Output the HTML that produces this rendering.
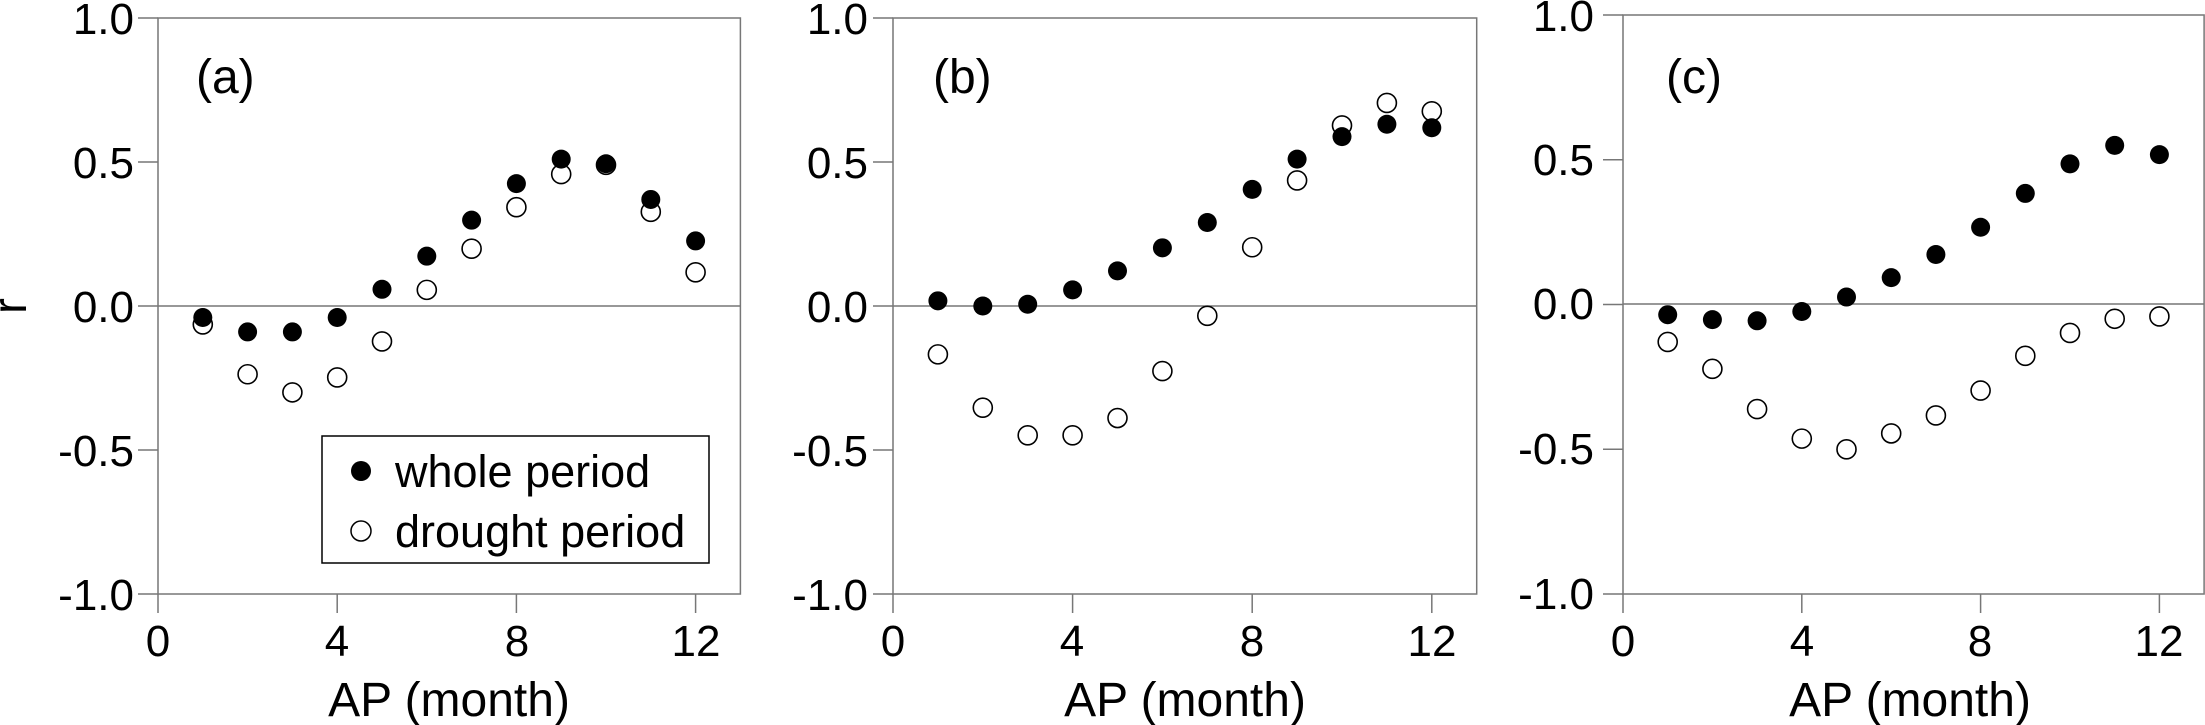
<!DOCTYPE html>
<html><head><meta charset="utf-8"><style>
html,body{margin:0;padding:0;background:#fff;}
svg{display:block;font-family:"Liberation Sans",Arial,sans-serif;}
</style></head><body>
<svg id="s" width="2205" height="725" viewBox="0 0 2205 725" xmlns="http://www.w3.org/2000/svg">
<g id="g" fill="#000" font-size="44">
<!-- Panel a -->
<text x="134" y="34" text-anchor="end">1.0</text>
<text x="134" y="178" text-anchor="end">0.5</text>
<text x="134" y="322" text-anchor="end">0.0</text>
<text x="134" y="466" text-anchor="end">-0.5</text>
<text x="134" y="610" text-anchor="end">-1.0</text>
<text x="158" y="656" text-anchor="middle">0</text>
<text x="337" y="656" text-anchor="middle">4</text>
<text x="517" y="656" text-anchor="middle">8</text>
<text x="696" y="656" text-anchor="middle">12</text>
<text x="449" y="716" text-anchor="middle" font-size="48">AP (month)</text>
<text x="196" y="93" font-size="48">(a)</text>
<text transform="translate(26,306) rotate(-90)" text-anchor="middle" font-size="48">r</text>
<!-- Panel b -->
<text x="868" y="34" text-anchor="end">1.0</text>
<text x="868" y="178" text-anchor="end">0.5</text>
<text x="868" y="322" text-anchor="end">0.0</text>
<text x="868" y="466" text-anchor="end">-0.5</text>
<text x="868" y="610" text-anchor="end">-1.0</text>
<text x="893" y="656" text-anchor="middle">0</text>
<text x="1072" y="656" text-anchor="middle">4</text>
<text x="1252" y="656" text-anchor="middle">8</text>
<text x="1432" y="656" text-anchor="middle">12</text>
<text x="1185" y="716" text-anchor="middle" font-size="48">AP (month)</text>
<text x="933" y="93" font-size="48">(b)</text>
<!-- Panel c -->
<text x="1594" y="31" text-anchor="end">1.0</text>
<text x="1594" y="175" text-anchor="end">0.5</text>
<text x="1594" y="319" text-anchor="end">0.0</text>
<text x="1594" y="464" text-anchor="end">-0.5</text>
<text x="1594" y="609" text-anchor="end">-1.0</text>
<text x="1623" y="656" text-anchor="middle">0</text>
<text x="1802" y="656" text-anchor="middle">4</text>
<text x="1980" y="656" text-anchor="middle">8</text>
<text x="2159" y="656" text-anchor="middle">12</text>
<text x="1910" y="716" text-anchor="middle" font-size="48">AP (month)</text>
<text x="1666" y="93" font-size="48">(c)</text>
<!-- legend -->
<rect x="322" y="436" width="387" height="127" fill="#fff" stroke="#000" stroke-width="1.5"/>
<circle cx="361" cy="471" r="10" fill="#000"/>
<circle cx="361" cy="531" r="10" fill="#fff" stroke="#000" stroke-width="1.5"/>
<text x="395" y="487" font-size="45">whole period</text>
<text x="395" y="547" font-size="45">drought period</text>
</g>
</svg>
<script>
var NS="http://www.w3.org/2000/svg",g=document.getElementById('g');
function add(t,a){var e=document.createElementNS(NS,t);for(var k in a)e.setAttribute(k,a[k]);g.appendChild(e);return e;}
var panels=[
 {l:158,u:44.8,top:18,y0:306,bot:594,
  f:[-0.04,-0.09,-0.09,-0.04,0.058,0.173,0.298,0.425,0.51,0.494,0.37,0.226],
  o:[-0.064,-0.237,-0.30,-0.248,-0.123,0.056,0.199,0.343,0.458,0.49,0.327,0.117]},
 {l:893,u:44.9,top:18,y0:306,bot:594,
  f:[0.018,0.0,0.006,0.056,0.122,0.202,0.29,0.405,0.51,0.588,0.631,0.619],
  o:[-0.168,-0.353,-0.449,-0.449,-0.389,-0.226,-0.034,0.204,0.436,0.627,0.705,0.676]},
 {l:1623,u:44.7,top:15,y0:304,bot:594,
  f:[-0.037,-0.054,-0.058,-0.026,0.024,0.091,0.171,0.265,0.382,0.484,0.548,0.516],
  o:[-0.131,-0.224,-0.363,-0.465,-0.502,-0.447,-0.385,-0.299,-0.179,-0.1,-0.051,-0.043]}
];
panels.forEach(function(p){
 var r=p.l+13*p.u, sc=(p.bot-p.top)/2, c="#777";
 add('rect',{x:p.l,y:p.top,width:r-p.l,height:p.bot-p.top,fill:'none',stroke:c,'stroke-width':1.5});
 add('line',{x1:p.l,x2:r,y1:p.y0,y2:p.y0,stroke:c,'stroke-width':1.5});
 for(var i=0;i<5;i++){var y=p.top+i*sc/2;add('line',{x1:p.l-20,x2:p.l,y1:y,y2:y,stroke:c,'stroke-width':1.5});}
 for(var j=0;j<4;j++){var x=p.l+j*4*p.u;add('line',{x1:x,x2:x,y1:p.bot,y2:p.bot+19,stroke:c,'stroke-width':1.5});}
 for(var k=0;k<12;k++){var x=p.l+(k+1)*p.u;
  add('circle',{cx:x,cy:p.y0-p.o[k]*sc,r:9.5,fill:'#fff',stroke:'#000','stroke-width':1.6});
 }
 for(var k=0;k<12;k++){var x=p.l+(k+1)*p.u;
  add('circle',{cx:x,cy:p.y0-p.f[k]*sc,r:9.5,fill:'#000'});
 }
});
var lg=[].slice.call(g.querySelectorAll('rect[x="322"], circle[cx="361"], text[x="395"]'));
lg.forEach(function(e){g.appendChild(e);});
</script>
</body></html>
